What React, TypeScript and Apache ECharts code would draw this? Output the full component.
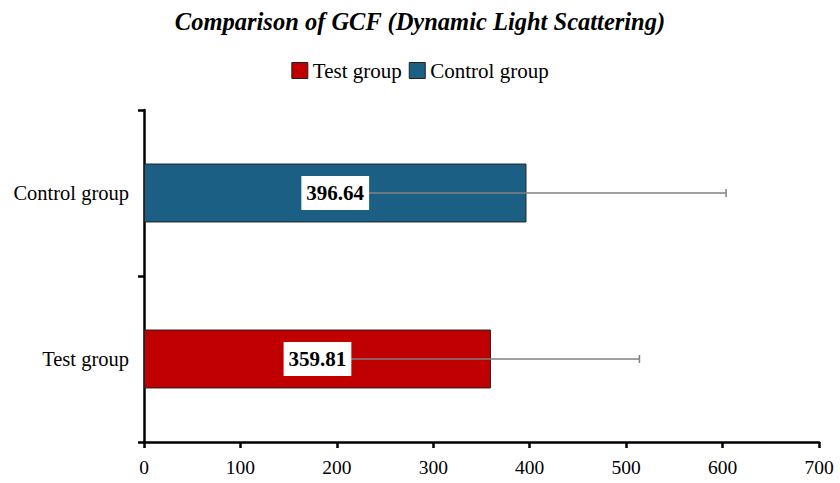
import React, { useEffect, useRef } from "react";
import * as echarts from "echarts";

const categories = ["Test group", "Control group"];
const means = [359.81, 396.64];
const errors = [154, 207];
const colors = ["#C00000", "#1C5F84"];
const xTicks = [0, 100, 200, 300, 400, 500, 600, 700];

const FONT = "'Liberation Serif', 'Times New Roman', serif";

export default function App() {
  const ref = useRef<HTMLDivElement>(null);
  useEffect(() => {
    if (!ref.current) return;
    const chart = echarts.init(ref.current, undefined, { renderer: "svg" });
    const option: any = {
      animation: false,
      backgroundColor: "#ffffff",
      title: {
        text: "Comparison of GCF (Dynamic Light Scattering)",
        left: "center",
        top: 4,
        textStyle: { fontFamily: FONT, fontSize: 24.5, fontWeight: "bold", fontStyle: "italic", color: "#000" },
      },
      legend: {
        top: 55,
        left: "center",
        itemWidth: 16,
        itemHeight: 16,
        itemGap: 7,
        icon: "rect",
        textStyle: { fontFamily: FONT, fontSize: 21, color: "#000" },
        data: [
          { name: categories[0], itemStyle: { color: colors[0], borderColor: "#222", borderWidth: 1 } },
          { name: categories[1], itemStyle: { color: colors[1], borderColor: "#222", borderWidth: 1 } },
        ],
      },
      grid: { left: 144, right: 21, top: 110, bottom: 41, containLabel: false },
      xAxis: {
        type: "value",
        min: 0,
        max: 700,
        interval: 100,
        axisLine: { show: true, lineStyle: { color: "#000", width: 2.5 } },
        axisTick: { show: true, length: 6, lineStyle: { color: "#000", width: 2.5 } },
        splitLine: { show: false },
        axisLabel: { fontFamily: FONT, fontSize: 19.5, color: "#000", margin: 15,
          formatter: (v: number) => (xTicks.includes(v) ? String(v) : "") },
      },
      yAxis: {
        type: "category",
        data: categories,
        axisLine: { show: true, lineStyle: { color: "#000", width: 2.5 } },
        axisTick: { show: true, length: 6, lineStyle: { color: "#000", width: 2.5 } },
        axisLabel: { fontFamily: FONT, fontSize: 20.5, color: "#000", margin: 15 },
      },
      series: [
        {
          name: categories[0],
          type: "bar",
          stack: "s",
          barWidth: "35.5%",
          z: 1,
          data: means.map((v, i) => ({
            value: i === 0 ? v : "-",
            itemStyle: { color: colors[i], borderColor: "#222", borderWidth: 1 },
          })),
        },
        {
          name: categories[1],
          type: "bar",
          stack: "s",
          barWidth: "35.5%",
          z: 1,
          data: means.map((v, i) => ({
            value: i === 1 ? v : "-",
            itemStyle: { color: colors[i], borderColor: "#222", borderWidth: 1 },
          })),
        },
        {
          type: "custom",
          z: 3,
          data: means.map((v, i) => [v, i, errors[i]]),
          renderItem: (params: any, api: any) => {
            const v = api.value(0);
            const c = api.value(1);
            const e = api.value(2);
            const lo = api.coord([v - e, c]);
            const hi = api.coord([v + e, c]);
            const cap = 4;
            const style = { stroke: "#808080", lineWidth: 1.5 };
            return {
              type: "group",
              children: [
                { type: "line", shape: { x1: lo[0], y1: lo[1], x2: hi[0], y2: hi[1] }, style },
                { type: "line", shape: { x1: hi[0], y1: hi[1] - cap, x2: hi[0], y2: hi[1] + cap }, style },
              ],
            };
          },
        },
        {
          type: "custom",
          z: 5,
          data: means.map((v, i) => [v, i]),
          renderItem: (params: any, api: any) => {
            const v = api.value(0);
            const c = api.value(1);
            const p = api.coord([v / 2, c]);
            return {
              type: "text",
              x: p[0],
              y: p[1],
              style: {
                text: v.toFixed(2),
                fontFamily: FONT,
                fontSize: 21,
                fontWeight: "bold",
                fill: "#000",
                align: "center",
                verticalAlign: "middle",
                backgroundColor: "#ffffff",
                padding: [7, 5, 6, 5],
              },
            };
          },
        },
      ],
    };
    chart.setOption(option);
    return () => chart.dispose();
  }, []);
  return <div ref={ref} style={{ width: 840, height: 483, position: "absolute", left: 0, top: 0 }} />;
}
